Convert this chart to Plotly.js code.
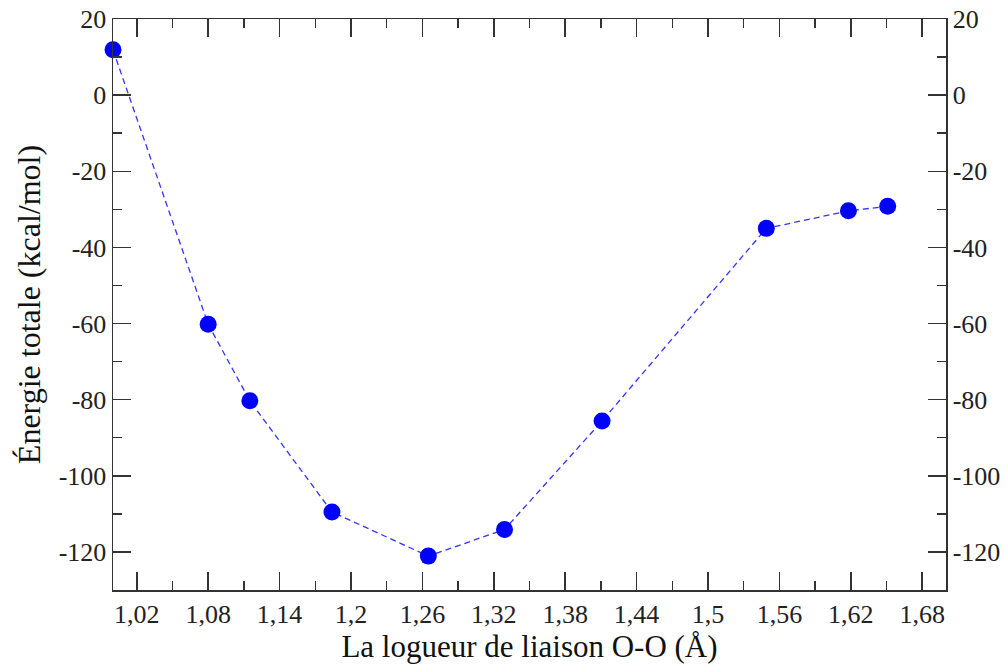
<!DOCTYPE html>
<html>
<head>
<meta charset="utf-8">
<script src="https://cdn.plot.ly/plotly-3.0.1.min.js"></script>
<style>html,body{margin:0;padding:0;background:#fff;}#chart{width:1008px;height:672px;}</style>
</head>
<body>
<div id="chart"></div>
<script>
const bondLength = [1.000, 1.080, 1.115, 1.184, 1.265, 1.329, 1.411, 1.549, 1.618, 1.651];
const energy = [11.9, -60.2, -80.3, -109.5, -121.1, -114.1, -85.6, -35.0, -30.4, -29.2];
const xTickVals = [1.02, 1.08, 1.14, 1.2, 1.26, 1.32, 1.38, 1.44, 1.5, 1.56, 1.62, 1.68];
const xTickText = ["1,02", "1,08", "1,14", "1,2", "1,26", "1,32", "1,38", "1,44", "1,5", "1,56", "1,62", "1,68"];
const yTickVals = [20, 0, -20, -40, -60, -80, -100, -120];
const yTickText = ["20", "0", "-20", "-40", "-60", "-80", "-100", "-120"];
const xTitle = "La logueur de liaison O-O (Å)";
const yTitle = "Énergie totale (kcal/mol)";

const serif = "Liberation Serif";
const axisCommon = {
  showgrid: false, zeroline: false, showline: true, linecolor: "#333", linewidth: 1.5,
  ticks: "inside", tickcolor: "#333", tickwidth: 1.5, ticklen: 18,
  tickfont: {family: serif, size: 26, color: "#222"}
};
const minorY = {tickmode: "linear", tick0: 0, dtick: 10, ticks: "inside", ticklen: 9, tickcolor: "#333", tickwidth: 1.5};

const trace = {
  x: bondLength, y: energy, type: "scatter", mode: "lines+markers",
  line: {color: "#3333ff", width: 1.3, dash: "6px,4px"},
  marker: {color: "#0000ff", size: 17},
  hoverinfo: "skip", cliponaxis: false
};

const layout = {
  width: 1008, height: 672,
  margin: {l: 113, r: 62, t: 19, b: 82},
  paper_bgcolor: "#fff", plot_bgcolor: "#fff",
  showlegend: false,
  font: {family: serif, color: "#000"},
  xaxis: Object.assign({}, axisCommon, {
    range: [1.0, 1.70], tickmode: "array", tickvals: xTickVals, ticktext: xTickText,
    mirror: "ticks",
    minor: {tickmode: "linear", tick0: 1.02, dtick: 0.03, ticks: "inside", ticklen: 9, tickcolor: "#333", tickwidth: 1.5},
    title: {text: xTitle, font: {family: serif, size: 31, color: "#111"}, standoff: 5}
  }),
  yaxis: Object.assign({}, axisCommon, {
    range: [-130, 20], tickmode: "array", tickvals: yTickVals, ticktext: yTickText,
    mirror: false, minor: minorY,
    title: {text: yTitle, font: {family: serif, size: 32, color: "#111"}, standoff: 8}
  }),
  yaxis2: Object.assign({}, axisCommon, {
    range: [-130, 20], tickmode: "array", tickvals: yTickVals, ticktext: yTickText,
    overlaying: "y", side: "right", anchor: "x", minor: minorY
  })
};

const ghost = {x: [bondLength[0]], y: [energy[0]], yaxis: "y2", type: "scatter", mode: "markers",
  marker: {opacity: 0}, hoverinfo: "skip", showlegend: false};

Plotly.newPlot("chart", [trace, ghost], layout, {staticPlot: true});
</script>
</body>
</html>
